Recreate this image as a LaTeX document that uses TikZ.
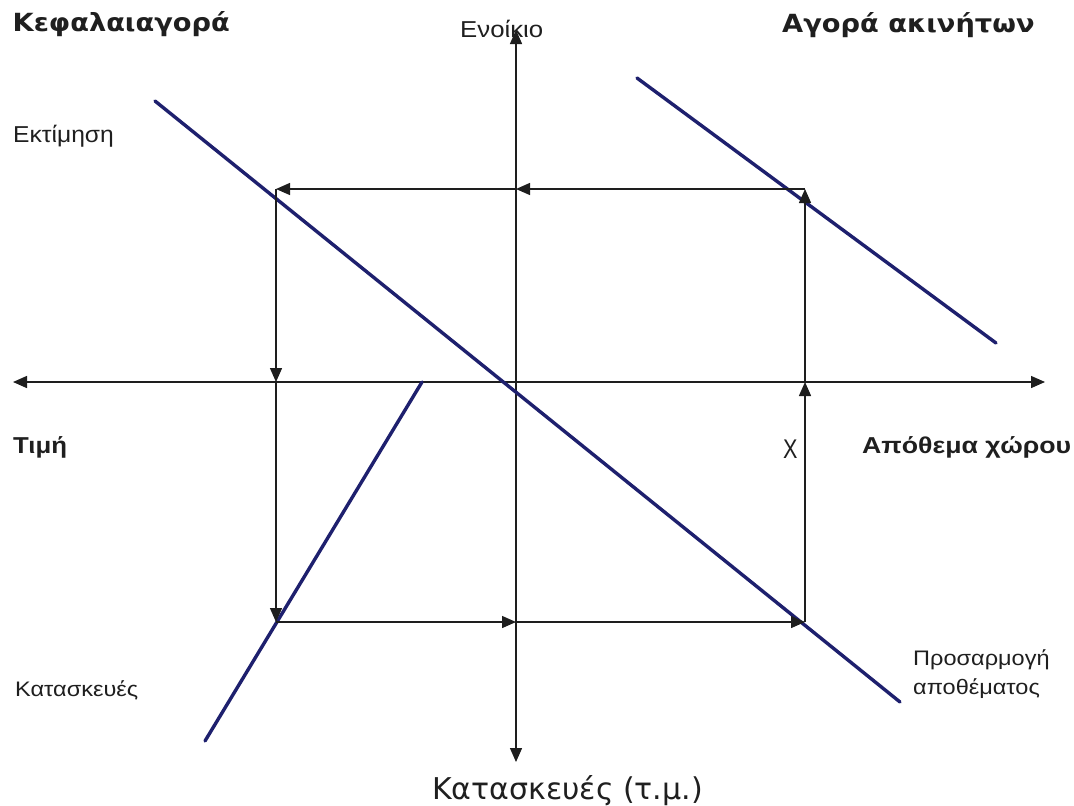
\documentclass[tikz,border=0pt]{standalone}
\usepackage{graphicx}
\usepackage{fontspec}
\setmainfont{Liberation Sans}
\newfontfamily\titlefont{DejaVu Sans}
\usetikzlibrary{arrows.meta}
\definecolor{navyline}{RGB}{30,32,110}
\definecolor{axisgray}{RGB}{30,30,30}
\newcommand{\hstretch}[2][1.12]{\scalebox{#1}[1]{#2}}
\tikzset{
  x=1pt, y=-1pt,
  axis/.style={line width=1.4pt, draw=axisgray, {Triangle[length=14pt,width=12pt]}-{Triangle[length=14pt,width=12pt]}},
  flow/.style={line width=1.4pt, draw=axisgray, -{Triangle[length=14pt,width=12pt]}},
  curve/.style={line width=3.4pt, draw=navyline, line cap=round},
  lbl/.style={inner sep=0pt, anchor=base west, text=black!88, font=\fontsize{23}{27}\selectfont},
  blbl/.style={lbl, font=\fontsize{23}{27}\selectfont\bfseries},
  tlbl/.style={lbl, font=\titlefont\fontsize{25}{29}\selectfont\bfseries},
}
\begin{document}
\begin{tikzpicture}
\useasboundingbox[fill=white] (0,0) rectangle (1074,806);
% axes
\coordinate (vtop) at (516,30);
\coordinate (vbot) at (516,762);
\coordinate (hleft) at (13,382);
\coordinate (hright) at (1045,382);
\draw[axis] (vtop) -- (vbot);
\draw[axis] (hleft) -- (hright);
% navy lines
\coordinate (a1) at (155,101);
\coordinate (a2) at (900,702);
\coordinate (b1) at (637,78);
\coordinate (b2) at (996,343);
\coordinate (c1) at (422,382);
\coordinate (c2) at (205,741);
\draw[curve] (a1) -- (a2);
\draw[curve] (b1) -- (b2);
\draw[curve] (c1) -- (c2);
% cycle points
\coordinate (TR) at (805,189);
\coordinate (TM) at (516,189);
\coordinate (TL) at (276,189);
\coordinate (LM) at (276,382);
\coordinate (BL) at (276,622);
\coordinate (BM) at (516,622);
\coordinate (BR) at (805,622);
\coordinate (RM) at (805,382);
\draw[flow] (TR) -- (TM);
\draw[flow] (TM) -- (TL);
\draw[flow] (TL) -- (LM);
\draw[flow] (LM) -- (BL);
\draw[flow] (BL) -- (BM);
\draw[flow] (BM) -- (BR);
\draw[flow] (BR) -- (RM);
\draw[flow] (RM) -- (TR);
% labels
\node[tlbl] (kef) at (12.5,31) {\hstretch[1.09]{Κεφαλαιαγορά}};
\node[lbl] (eno) at (460,37) {\hstretch{Ενοίκιο}};
\node[tlbl] (ago) at (782,32) {\hstretch[1.09]{Αγορά ακινήτων}};
\node[lbl] (ekt) at (13,142) {\hstretch[1.07]{Εκτίμηση}};
\node[blbl] (tim) at (13,453) {\hstretch{Τιμή}};
\node[blbl] (apo) at (862,453) {\hstretch[1.16]{Απόθεμα χώρου}};
\node[lbl, font=\fontsize{27}{30}\selectfont] (chi) at (783,458) {\hstretch[0.8]{Χ}};
\node[lbl, font=\fontsize{21}{24}\selectfont] (kat) at (15,696) {\hstretch{Κατασκευές}};
\node[lbl, font=\titlefont\fontsize{30}{34}\selectfont] (katm) at (432,799) {Κατασκευές (τ.μ.)};
\node[lbl, font=\fontsize{21}{29}\selectfont, anchor=north west, align=left] (pros) at (913,649) {\hstretch{Προσαρμογή}\\\hstretch{αποθέματος}};
\end{tikzpicture}
\end{document}
